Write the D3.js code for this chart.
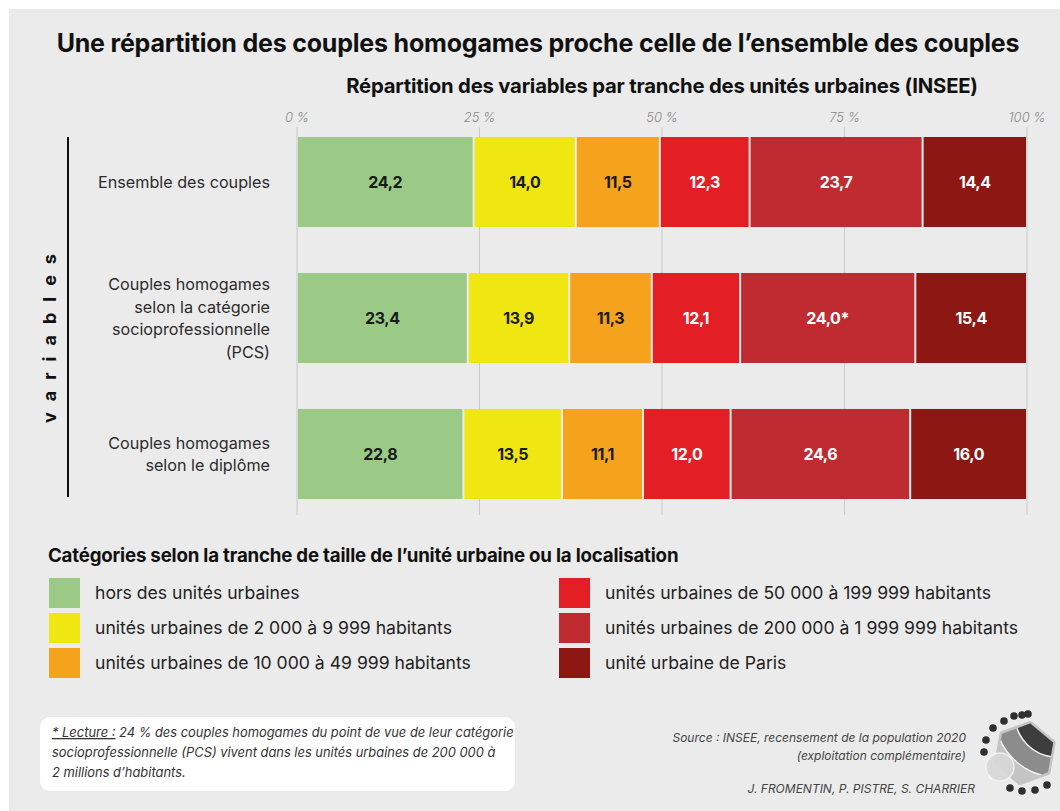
<!DOCTYPE html>
<html><head><meta charset="utf-8">
<script src="https://cdn.jsdelivr.net/npm/d3@7"></script>
<style>
html,body{margin:0;padding:0;background:#fff;}
svg{display:block;font-family:Inter, "DejaVu Sans", sans-serif;}
</style></head>
<body>
<svg id="c" width="1060" height="811"></svg>
<script>
const rows = ["Ensemble des couples","Couples homogames selon la catégorie socioprofessionnelle (PCS)","Couples homogames selon le diplôme"];
const rowLines = [["Ensemble des couples"],["Couples homogames","selon la catégorie","socioprofessionnelle","(PCS)"],["Couples homogames","selon le diplôme"]];
const categories = ["hors des unités urbaines","unités urbaines de 2 000 à 9 999 habitants","unités urbaines de 10 000 à 49 999 habitants","unités urbaines de 50 000 à 199 999 habitants","unités urbaines de 200 000 à 1 999 999 habitants","unité urbaine de Paris"];
const colors = ["#9bca87","#f0e612","#f5a31c","#e31e24","#c02b32","#8c1713"];
const textColors = ["#1a1a1a","#1a1a1a","#1a1a1a","#ffffff","#ffffff","#ffffff"];
const valuesEnsemble = [24.2,14.0,11.5,12.3,23.7,14.4];
const valuesPCS = [23.4,13.9,11.3,12.1,24.0,15.4];
const valuesDiplome = [22.8,13.5,11.1,12.0,24.6,16.0];
const labelsPCS = ["23,4","13,9","11,3","12,1","24,0*","15,4"];
const tickValues = [0,25,50,75,100];
const tickLabels = ["0 %","25 %","50 %","75 %","100 %"];

const series = [valuesEnsemble, valuesPCS, valuesDiplome];
const svg = d3.select("#c");

// panel background
svg.append("rect").attr("x",9).attr("y",9).attr("width",1051).attr("height",802).attr("fill","#ebebeb");

// title
svg.append("text").attr("x",538).attr("y",52).attr("text-anchor","middle")
  .attr("font-size",25).attr("font-weight",700).attr("fill","#111").attr("letter-spacing",-0.2)
  .text("Une répartition des couples homogames proche celle de l’ensemble des couples");

const x = d3.scaleLinear().domain([0,100]).range([297,1027]);
const y = d3.scaleBand().domain(rows).range([137,499]).paddingInner(0.338).paddingOuter(0);

svg.append("text").attr("x",(x(0)+x(100))/2).attr("y",93).attr("text-anchor","middle")
  .attr("font-size",20.3).attr("font-weight",700).attr("fill","#111").attr("letter-spacing",-0.2)
  .text("Répartition des variables par tranche des unités urbaines (INSEE)");

// grid
const grid = svg.append("g");
grid.selectAll("line").data(tickValues).join("line")
  .attr("x1",d=>x(d)).attr("x2",d=>x(d)).attr("y1",127).attr("y2",515)
  .attr("stroke","#c9c9c9").attr("stroke-width",1);
grid.selectAll("text").data(tickValues).join("text")
  .attr("x",d=>x(d)).attr("y",122).attr("text-anchor","middle")
  .attr("font-size",13).attr("font-style","italic").attr("font-weight",300).attr("fill","#8a8a8a")
  .text((d,i)=>tickLabels[i]);

// bars
rows.forEach((r,ri)=>{
  const vals = series[ri];
  let cum = 0;
  const segs = vals.map((v,i)=>{const s={i,v,x0:cum,x1:cum+v}; cum+=v; return s;});
  const g = svg.append("g");
  g.selectAll("rect").data(segs).join("rect")
    .attr("x",d=>x(d.x0)+1).attr("width",d=>Math.max(0,x(Math.min(d.x1,100))-x(d.x0)-2))
    .attr("y",y(r)).attr("height",y.bandwidth())
    .attr("fill",d=>colors[d.i]);
  g.selectAll("text").data(segs).join("text")
    .attr("x",d=>(x(d.x0)+x(Math.min(d.x1,100)))/2).attr("y",y(r)+y.bandwidth()/2+6)
    .attr("text-anchor","middle").attr("font-size",16).attr("font-weight",700).attr("letter-spacing",-0.4)
    .attr("fill",d=>textColors[d.i])
    .text(d=> ri===1 ? labelsPCS[d.i] : d.v.toFixed(1).replace(".",","));
  // row labels
  const lines = rowLines[ri];
  const cy = y(r)+y.bandwidth()/2;
  const lh = 22.5;
  const t = svg.append("text").attr("text-anchor","end").attr("font-size",16.2).attr("fill","#2b2b2b");
  lines.forEach((l,li)=>{
    t.append("tspan").attr("x",270).attr("y",cy+6+(li-(lines.length-1)/2)*lh).text(l);
  });
});

// axis line and label
svg.append("line").attr("x1",68).attr("x2",68).attr("y1",137).attr("y2",497).attr("stroke","#111").attr("stroke-width",2);
svg.append("text").attr("transform","translate(56,333) rotate(-90)").attr("text-anchor","middle")
  .attr("font-size",18).attr("font-weight",700).attr("letter-spacing",11).attr("fill","#111").text("variables");

// legend
svg.append("text").attr("x",48).attr("y",562).attr("font-size",18.7).attr("font-weight",700).attr("fill","#111").attr("letter-spacing",-0.2)
  .text("Catégories selon la tranche de taille de l’unité urbaine ou la localisation");
const lg = svg.append("g");
const items = lg.selectAll("g").data(categories).join("g")
  .attr("transform",(d,i)=>`translate(${i<3?49:559},${578+(i%3)*35})`);
items.append("rect").attr("width",31).attr("height",30).attr("fill",(d,i)=>colors[i]);
items.append("text").attr("x",46).attr("y",21).attr("font-size",17.6).attr("fill","#222").text(d=>d);

// footnote box
svg.append("rect").attr("x",40).attr("y",717).attr("width",475).attr("height",74).attr("rx",10).attr("fill","#fff");
const fn = svg.append("text").attr("font-size",12.9).attr("font-style","italic").attr("fill","#333");
const fl1 = fn.append("tspan").attr("x",52).attr("y",737);
fl1.append("tspan").attr("text-decoration","underline").text("* Lecture :");
fl1.append("tspan").text(" 24 % des couples homogames du point de vue de leur catégorie");
fn.append("tspan").attr("x",52).attr("y",757).text("socioprofessionnelle (PCS) vivent dans les unités urbaines de 200 000 à");
fn.append("tspan").attr("x",52).attr("y",777).text("2 millions d’habitants.");

// source
const src = svg.append("text").attr("text-anchor","end").attr("font-size",12).attr("font-style","italic").attr("fill","#444");
src.append("tspan").attr("x",966).attr("y",742).text("Source : INSEE, recensement de la population 2020");
src.append("tspan").attr("x",966).attr("y",760).text("(exploitation complémentaire)");
svg.append("text").attr("x",975).attr("y",793).attr("text-anchor","end").attr("font-size",12).attr("font-style","italic").attr("fill","#444")
  .text("J. FROMENTIN, P. PISTRE, S. CHARRIER");

// logo
const logo = svg.append("g").attr("transform","translate(1025,753)");
const hex = d3.range(6).map(k=>{const a=(-80+60*k)*Math.PI/180; return [Math.cos(a)*30, Math.sin(a)*30];});
const hexPath = "M"+hex.map(p=>p.join(",")).join("L")+"Z";
svg.append("defs").append("clipPath").attr("id","hexclip").append("path").attr("d",hexPath)
  .attr("transform","translate(1025,753)");
logo.append("path").attr("d",hexPath).attr("fill","#c4c4c4").attr("stroke","#c4c4c4").attr("stroke-width",5).attr("stroke-linejoin","round");
const inner = svg.append("g").attr("clip-path","url(#hexclip)").append("g").attr("transform","translate(1025,753)");
inner.append("circle").attr("cx",32).attr("cy",-38).attr("r",62).attr("fill","#8c8c8c").attr("stroke","#f2f2f2").attr("stroke-width",1.5);
inner.append("circle").attr("cx",32).attr("cy",-38).attr("r",42).attr("fill","#3d3d3d").attr("stroke","#f2f2f2").attr("stroke-width",1.5);
logo.append("circle").attr("cx",-25).attr("cy",14).attr("r",14).attr("fill","#d8d8d8").attr("stroke","#f4f4f4").attr("stroke-width",1.5).attr("opacity",0.9);
const dots = [[3,-39],[-3,-38],[-11,-37],[-21,-32],[-32,-25],[-39,-13],[-41,-1],[-15,35],[-3,38],[10,37],[22,32]];
logo.selectAll("circle.d").data(dots).join("circle").attr("class","d").attr("cx",d=>d[0]).attr("cy",d=>d[1]).attr("r",3.8).attr("fill","#2e2e2e");
</script>
</body></html>
